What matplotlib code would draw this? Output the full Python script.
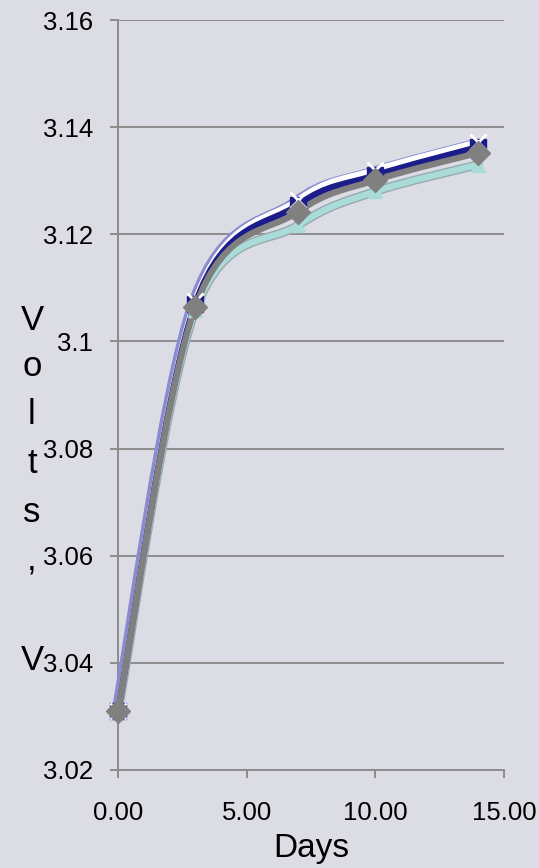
import matplotlib.pyplot as plt
from matplotlib.path import Path
from matplotlib.patches import PathPatch
import matplotlib.patheffects as pe

plt.rcParams['font.family'] = ['Liberation Sans', 'DejaVu Sans']

# Data
days = [0, 3, 7, 10, 14]
white_v = [3.031, 3.1075, 3.1264, 3.1320, 3.1372]
navy_v = [3.031, 3.1070, 3.1255, 3.1310, 3.1363]
gray_v = [3.031, 3.1064, 3.1242, 3.1301, 3.1352]
cyan_v = [3.031, 3.1058, 3.1217, 3.1280, 3.1330]

x_ticks = [0, 5, 10, 15]
x_labels = ['0.00', '5.00', '10.00', '15.00']
y_ticks = [3.02, 3.04, 3.06, 3.08, 3.10, 3.12, 3.14, 3.16]
y_labels = ['3.02', '3.04', '3.06', '3.08', '3.1', '3.12', '3.14', '3.16']

bg = '#dcdde4'
grid_col = '#8c8c8c'


def smooth_path(xs, ys):
    # Excel-style smoothed line: cubic bezier through every point
    pts = list(zip(xs, ys))
    n = len(pts)
    verts = [pts[0]]
    codes = [Path.MOVETO]
    for i in range(n - 1):
        p0 = pts[i - 1] if i > 0 else pts[i]
        p1 = pts[i]
        p2 = pts[i + 1]
        p3 = pts[i + 2] if i + 2 < n else pts[i + 1]
        c1 = (p1[0] + (p2[0] - p0[0]) / 6, p1[1] + (p2[1] - p0[1]) / 6)
        c2 = (p2[0] - (p3[0] - p1[0]) / 6, p2[1] - (p3[1] - p1[1]) / 6)
        verts += [c1, c2, p2]
        codes += [Path.CURVE4] * 3
    return Path(verts, codes)


fig = plt.figure(figsize=(5.39, 8.68), dpi=100, facecolor=bg)
ax = fig.add_axes([118 / 539, 1 - 770 / 868, (504 - 118) / 539, 750 / 868])
ax.set_facecolor(bg)

ax.set_xlim(0, 15)
ax.set_ylim(3.02, 3.16)
ax.set_yticks(y_ticks)
ax.set_yticklabels(y_labels)
ax.set_xticks(x_ticks)
ax.set_xticklabels(x_labels)
ax.yaxis.grid(True, color=grid_col, lw=1.4)
ax.set_axisbelow(True)
for s in ['top', 'right']:
    ax.spines[s].set_visible(False)
for s in ['left', 'bottom']:
    ax.spines[s].set_color(grid_col)
    ax.spines[s].set_linewidth(1.4)
ax.tick_params(axis='y', direction='out', length=6, width=1.4, color=grid_col,
               labelsize=18.5, pad=12)
ax.tick_params(axis='x', direction='out', length=6, width=1.4, color=grid_col,
               labelsize=18.5, pad=16)

# lines, back to front
series = [
    (cyan_v, '#a9dcd8', [pe.Stroke(linewidth=6.5, foreground='#9aa8b0'), pe.Normal()]),
    (white_v, '#ffffff', [pe.SimpleLineShadow(offset=(-2.5, 0), shadow_color='#8a8ad0', alpha=1), pe.Normal()]),
    (navy_v, '#1c1c8a', None),
    (gray_v, '#808080', None),
]
for vals, col, eff in series:
    patch = PathPatch(smooth_path(days, vals), fill=False, edgecolor=col, lw=4.5, zorder=3,
                      capstyle='round', joinstyle='round', clip_on=False)
    if eff:
        patch.set_path_effects(eff)
    ax.add_patch(patch)

# markers
ax.plot(days, navy_v, ls='none', marker='s', ms=12, mfc='#1c1c8a', mec='#1c1c8a', zorder=4, clip_on=False)
ax.plot(days, white_v, ls='none', marker='x', ms=12, mew=2, color='#ffffff', zorder=4, clip_on=False)
ax.plot(days, cyan_v, ls='none', marker='^', ms=10, mfc='#a9dcd8', mec='#a9dcd8', zorder=4, clip_on=False)
ax.plot(days, gray_v, ls='none', marker='D', ms=12, mfc='#808080', mec='#808080', zorder=5, clip_on=False)

fig.text(311 / 539, 1 - 857 / 868, 'Days', ha='center', va='baseline', fontsize=24)

# vertical stacked y-axis title
letters = ['V', 'o', 'l', 't', 's', ',', 'V']
letter_y = [320, 367, 415, 463, 513, 560, 660]
for ch, yy in zip(letters, letter_y):
    fig.text(32 / 539, 1 - yy / 868, ch, ha='center', va='center', fontsize=25)

fig.savefig('out.png', dpi=100, facecolor=bg)
